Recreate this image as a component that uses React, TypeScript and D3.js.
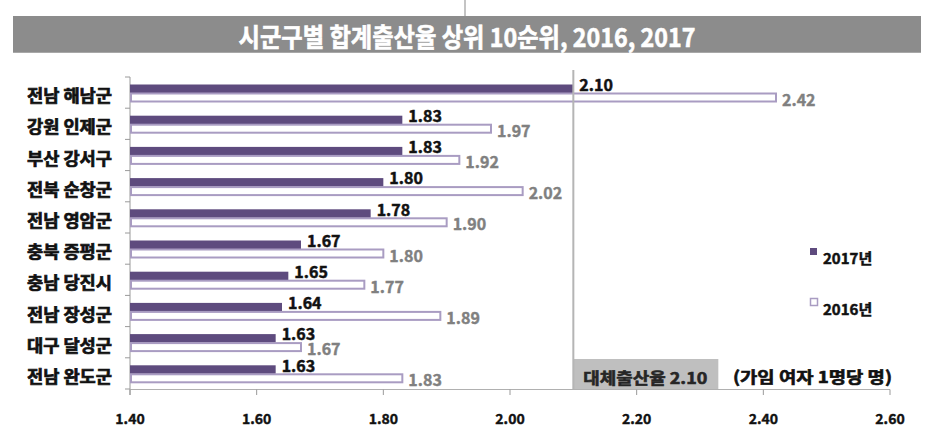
import React from "react";
import * as d3 from "d3";

const categories = ["전남 해남군", "강원 인제군", "부산 강서구", "전북 순창군", "전남 영암군", "충북 증평군", "충남 당진시", "전남 장성군", "대구 달성군", "전남 완도군"];
const values2017 = [2.10, 1.83, 1.83, 1.80, 1.78, 1.67, 1.65, 1.64, 1.63, 1.63];
const values2016 = [2.42, 1.97, 1.92, 2.02, 1.90, 1.80, 1.77, 1.89, 1.67, 1.83];
const xTicks = [1.4, 1.6, 1.8, 2.0, 2.2, 2.4, 2.6];
const seriesNames = ["2017년", "2016년"];
const replacementRate = 2.10;
const title = "시군구별 합계출산율 상위 10순위, 2016, 2017";
const refLabel = "대체출산율 2.10";
const unitLabel = "(가임 여자 1명당 명)";

const W = 936;
const H = 447;
const FONT = "'Noto Sans CJK KR', 'Noto Sans', sans-serif";
const PURPLE = "#5e4b7e";
const LIGHT = "#a99cc2";
const AXIS = "#9a9a9a";

export default function App() {
  const x = d3.scaleLinear().domain([1.4, 2.6]).range([130, 890]);
  const y = d3.scaleBand<string>().domain(categories).range([77, 389]).paddingInner(0);
  const bw = y.bandwidth();
  const fmt = d3.format(".2f");
  const x0 = x(1.4);
  const bold = (c: string, w = 0.5) => ({ fill: c, stroke: c, strokeWidth: w, fontWeight: 700 });

  return (
    <svg width={W} height={H} style={{ position: "absolute", left: 0, top: 0, background: "#fff" }} fontFamily={FONT}>
      {/* top remnant line */}
      <line x1={465} x2={465} y1={0} y2={16} stroke="#c4c4c4" strokeWidth={2} />
      {/* title bar */}
      <rect x={13} y={16} width={908} height={37} fill="#8c8c8c" />
      <line x1={13} x2={921} y1={52.5} y2={52.5} stroke="#a8a8a8" strokeWidth={1} />
      <text x={467} y={35} fontSize={26} {...bold("#fff", 0.6)} textAnchor="middle" dominantBaseline="central" textLength={457} lengthAdjust="spacingAndGlyphs">{title}</text>

      {/* reference box */}
      <rect x={x(replacementRate)} y={359} width={145} height={30} fill="#bfbfbf" />
      <text x={x(replacementRate) + 72} y={377} fontSize={16} {...bold("#262626", 0.6)} textAnchor="middle" dominantBaseline="central" textLength={124} lengthAdjust="spacingAndGlyphs">{refLabel}</text>
      <text x={812.5} y={376} fontSize={16} {...bold("#111", 0.6)} textAnchor="middle" dominantBaseline="central" textLength={159} lengthAdjust="spacingAndGlyphs">{unitLabel}</text>

      {/* axes */}
      <line x1={x0} x2={x0} y1={y.range()[0]} y2={y.range()[1] + 6} stroke={AXIS} strokeWidth={1} />
      {d3.range(categories.length + 1).map((i) => {
        const yy = y.range()[0] + i * bw;
        return <line key={"yt" + i} x1={x0 - 5} x2={x0} y1={yy} y2={yy} stroke={AXIS} strokeWidth={1} />;
      })}
      <line x1={x0} x2={x(2.6)} y1={389.5} y2={389.5} stroke="#b0b0b0" strokeWidth={1} />
      {xTicks.map((t) => (
        <g key={"xt" + t}>
          <line x1={x(t)} x2={x(t)} y1={389.5} y2={395} stroke={AXIS} strokeWidth={1} />
          <text x={x(t)} y={418} fontSize={14} {...bold("#111", 0.4)} textAnchor="middle" dominantBaseline="central">{fmt(t)}</text>
        </g>
      ))}

      {/* category labels */}
      {categories.map((c) => (
        <text key={c} x={112} y={(y(c) as number) + bw / 2 + 2} fontSize={17} {...bold("#111", 0.7)} textAnchor="end" dominantBaseline="central" textLength={85} lengthAdjust="spacingAndGlyphs">{c}</text>
      ))}

      {/* bars */}
      {categories.map((c, i) => {
        const top = y(c) as number;
        const y17 = top + 7.5;
        const y16 = top + 16.5;
        return (
          <g key={"b" + c}>
            <rect x={x0} y={y17} width={x(values2017[i]) - x0} height={8.5} fill={PURPLE} />
            <rect x={x0 + 1} y={y16} width={x(values2016[i]) - x0 - 1} height={8} fill="#fff" stroke={LIGHT} strokeWidth={2} />
            <text x={x(values2017[i]) + 6} y={y17 + 4.25 - 5} fontSize={16} {...bold("#111", 0.5)} dominantBaseline="central">{fmt(values2017[i])}</text>
            <text x={x(values2016[i]) + 6} y={y16 + 5} fontSize={16} {...bold("#808080", 0.4)} dominantBaseline="central">{fmt(values2016[i])}</text>
          </g>
        );
      })}

      {/* replacement line */}
      <line x1={x(replacementRate)} x2={x(replacementRate)} y1={70} y2={389} stroke="#b5b5b5" strokeWidth={2} />

      {/* legend */}
      <rect x={810} y={248} width={7} height={7} fill={PURPLE} />
      <text x={823} y={257} fontSize={15} {...bold("#111", 0.5)} dominantBaseline="central">{seriesNames[0]}</text>
      <rect x={810.5} y={298.5} width={7} height={7} fill="#fff" stroke={LIGHT} strokeWidth={1.5} />
      <text x={823} y={308} fontSize={15} {...bold("#111", 0.5)} dominantBaseline="central">{seriesNames[1]}</text>
    </svg>
  );
}
